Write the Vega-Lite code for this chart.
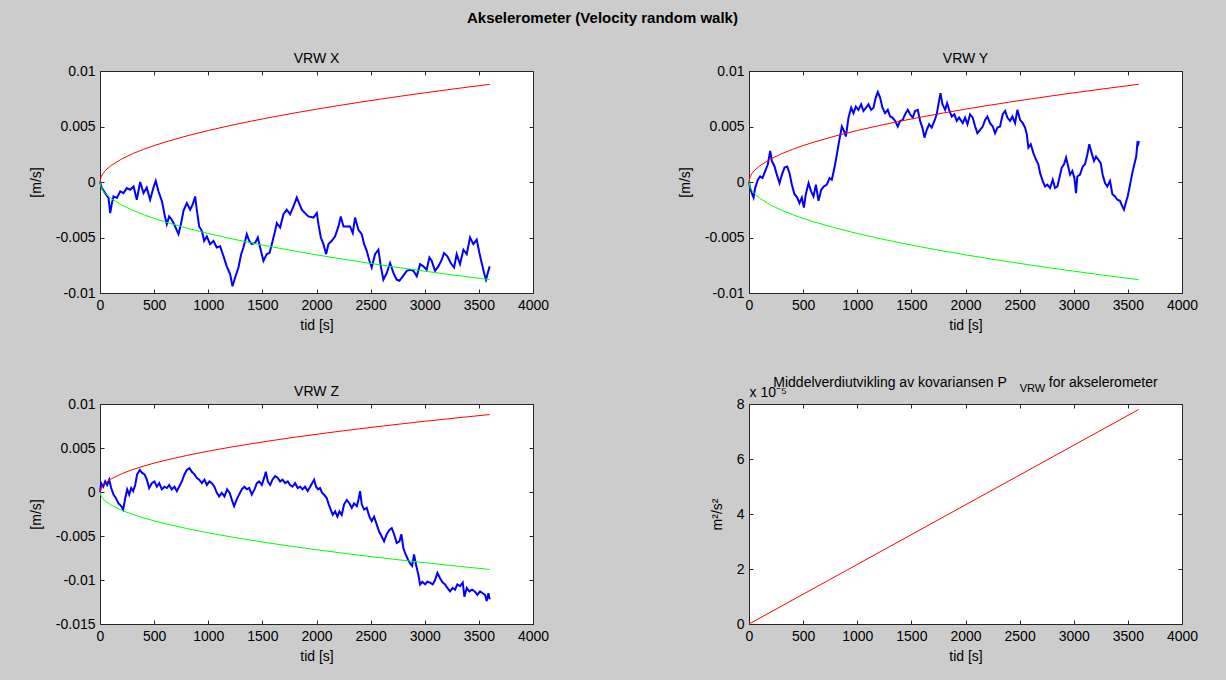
{
  "$schema": "https://vega.github.io/schema/vega-lite/v6.json",
  "background": "#cccccc",
  "padding": {"left": 28, "top": 10, "right": 34, "bottom": 16},
  "title": {"text": "Akselerometer (Velocity random walk)", "fontWeight": "bold", "fontSize": 15, "anchor": "middle", "offset": 26, "dx": -11},
  "columns": 2,
  "bounds": "flush",
  "spacing": {"row": 111, "column": 216},
  "datasets": {
    "bounds": [
      {"t":0,"upper":0,"lower":0},{"t":10,"upper":0.000464,"lower":-0.000464},{"t":25,"upper":0.000733,"lower":-0.000733},{"t":50,"upper":0.001037,"lower":-0.001037},{"t":100,"upper":0.001467,"lower":-0.001467},{"t":200,"upper":0.002074,"lower":-0.002074},{"t":300,"upper":0.00254,"lower":-0.00254},{"t":400,"upper":0.002933,"lower":-0.002933},{"t":500,"upper":0.00328,"lower":-0.00328},{"t":600,"upper":0.003593,"lower":-0.003593},{"t":800,"upper":0.004149,"lower":-0.004149},{"t":1000,"upper":0.004638,"lower":-0.004638},{"t":1200,"upper":0.005081,"lower":-0.005081},{"t":1400,"upper":0.005488,"lower":-0.005488},{"t":1600,"upper":0.005867,"lower":-0.005867},{"t":1800,"upper":0.006223,"lower":-0.006223},{"t":2000,"upper":0.00656,"lower":-0.00656},{"t":2200,"upper":0.00688,"lower":-0.00688},{"t":2400,"upper":0.007186,"lower":-0.007186},{"t":2600,"upper":0.007479,"lower":-0.007479},{"t":2800,"upper":0.007762,"lower":-0.007762},{"t":3000,"upper":0.008034,"lower":-0.008034},{"t":3200,"upper":0.008297,"lower":-0.008297},{"t":3400,"upper":0.008552,"lower":-0.008552},{"t":3600,"upper":0.0088,"lower":-0.0088}
    ],
    "walkX": [
      {"t":0,"v":0},{"t":17,"v":-0.00054},{"t":48,"v":-0.001},{"t":79,"v":-0.00144},{"t":94,"v":-0.0028},{"t":110,"v":-0.0019},{"t":125,"v":-0.0013},{"t":156,"v":-0.00144},{"t":187,"v":-0.00084},{"t":217,"v":-0.001},{"t":248,"v":-0.00054},{"t":279,"v":-0.0007},{"t":310,"v":-0.0004},{"t":340,"v":-0.0016},{"t":371,"v":0},{"t":402,"v":-0.001},{"t":432,"v":-0.0005},{"t":463,"v":-0.0016},{"t":494,"v":-0.0005},{"t":515,"v":0.0001},{"t":540,"v":-0.00084},{"t":571,"v":-0.0017},{"t":602,"v":-0.0032},{"t":617,"v":-0.0038},{"t":639,"v":-0.0031},{"t":663,"v":-0.0034},{"t":694,"v":-0.004},{"t":725,"v":-0.0047},{"t":750,"v":-0.0037},{"t":771,"v":-0.0026},{"t":802,"v":-0.0019},{"t":833,"v":-0.0025},{"t":857,"v":-0.002},{"t":879,"v":-0.0013},{"t":894,"v":-0.0025},{"t":916,"v":-0.004},{"t":941,"v":-0.0044},{"t":962,"v":-0.0053},{"t":987,"v":-0.0049},{"t":1017,"v":-0.0056},{"t":1048,"v":-0.0053},{"t":1079,"v":-0.0059},{"t":1110,"v":-0.0058},{"t":1141,"v":-0.0067},{"t":1171,"v":-0.0076},{"t":1202,"v":-0.0083},{"t":1224,"v":-0.0094},{"t":1248,"v":-0.0086},{"t":1279,"v":-0.0077},{"t":1304,"v":-0.0065},{"t":1325,"v":-0.0059},{"t":1356,"v":-0.0047},{"t":1378,"v":-0.0053},{"t":1402,"v":-0.0056},{"t":1433,"v":-0.0055},{"t":1458,"v":-0.005},{"t":1479,"v":-0.0059},{"t":1510,"v":-0.0071},{"t":1541,"v":-0.0065},{"t":1566,"v":-0.0064},{"t":1587,"v":-0.0056},{"t":1618,"v":-0.0044},{"t":1633,"v":-0.0037},{"t":1664,"v":-0.0041},{"t":1695,"v":-0.0029},{"t":1725,"v":-0.0025},{"t":1756,"v":-0.0029},{"t":1787,"v":-0.0022},{"t":1818,"v":-0.0014},{"t":1839,"v":-0.0019},{"t":1864,"v":-0.0025},{"t":1894,"v":-0.0028},{"t":1925,"v":-0.0031},{"t":1972,"v":-0.0032},{"t":2003,"v":-0.0028},{"t":2018,"v":-0.0038},{"t":2040,"v":-0.005},{"t":2064,"v":-0.0056},{"t":2089,"v":-0.0065},{"t":2110,"v":-0.0056},{"t":2141,"v":-0.0053},{"t":2172,"v":-0.0049},{"t":2203,"v":-0.004},{"t":2224,"v":-0.0031},{"t":2249,"v":-0.004},{"t":2280,"v":-0.004},{"t":2310,"v":-0.004},{"t":2335,"v":-0.0046},{"t":2356,"v":-0.0032},{"t":2387,"v":-0.0043},{"t":2418,"v":-0.0047},{"t":2440,"v":-0.0056},{"t":2464,"v":-0.0062},{"t":2489,"v":-0.0071},{"t":2510,"v":-0.0077},{"t":2541,"v":-0.0065},{"t":2572,"v":-0.0061},{"t":2594,"v":-0.0076},{"t":2618,"v":-0.0088},{"t":2649,"v":-0.0082},{"t":2680,"v":-0.0073},{"t":2711,"v":-0.0082},{"t":2741,"v":-0.0088},{"t":2766,"v":-0.0089},{"t":2797,"v":-0.0085},{"t":2834,"v":-0.008},{"t":2864,"v":-0.0079},{"t":2895,"v":-0.008},{"t":2926,"v":-0.0085},{"t":2957,"v":-0.0074},{"t":2987,"v":-0.0076},{"t":3018,"v":-0.0079},{"t":3043,"v":-0.0068},{"t":3064,"v":-0.0071},{"t":3095,"v":-0.008},{"t":3126,"v":-0.0076},{"t":3157,"v":-0.007},{"t":3178,"v":-0.0064},{"t":3209,"v":-0.0067},{"t":3240,"v":-0.0073},{"t":3271,"v":-0.0077},{"t":3295,"v":-0.0065},{"t":3326,"v":-0.0074},{"t":3357,"v":-0.0061},{"t":3388,"v":-0.0065},{"t":3418,"v":-0.005},{"t":3449,"v":-0.0056},{"t":3480,"v":-0.0052},{"t":3505,"v":-0.0064},{"t":3526,"v":-0.0073},{"t":3548,"v":-0.0082},{"t":3566,"v":-0.0088},{"t":3588,"v":-0.008},{"t":3600,"v":-0.0076}
    ],
    "walkY": [
      {"t":0,"v":0},{"t":11,"v":-0.00054},{"t":26,"v":-0.001},{"t":42,"v":-0.0014},{"t":57,"v":-0.00054},{"t":82,"v":0.0002},{"t":103,"v":0.0005},{"t":125,"v":0.00036},{"t":150,"v":0.001},{"t":174,"v":0.0016},{"t":196,"v":0.0028},{"t":211,"v":0.0019},{"t":236,"v":0.0014},{"t":257,"v":0.00066},{"t":282,"v":-0.0001},{"t":304,"v":0.00066},{"t":328,"v":0.0013},{"t":353,"v":0.0014},{"t":374,"v":0.0008},{"t":396,"v":-0.00024},{"t":420,"v":-0.0011},{"t":445,"v":-0.0014},{"t":466,"v":-0.0019},{"t":488,"v":-0.0014},{"t":507,"v":-0.0023},{"t":525,"v":-0.0011},{"t":550,"v":-0.0001},{"t":574,"v":-0.00084},{"t":596,"v":-0.0013},{"t":618,"v":-0.00024},{"t":642,"v":-0.0017},{"t":667,"v":-0.0007},{"t":691,"v":-0.0004},{"t":719,"v":-0.00024},{"t":744,"v":0.00036},{"t":765,"v":0.0002},{"t":790,"v":0.0013},{"t":812,"v":0.0025},{"t":833,"v":0.0037},{"t":858,"v":0.005},{"t":877,"v":0.0046},{"t":895,"v":0.0041},{"t":919,"v":0.0058},{"t":944,"v":0.0067},{"t":965,"v":0.0062},{"t":987,"v":0.0068},{"t":1011,"v":0.0065},{"t":1036,"v":0.007},{"t":1057,"v":0.0064},{"t":1082,"v":0.0067},{"t":1104,"v":0.007},{"t":1128,"v":0.0065},{"t":1150,"v":0.0067},{"t":1171,"v":0.0076},{"t":1190,"v":0.0081},{"t":1211,"v":0.0076},{"t":1233,"v":0.0067},{"t":1257,"v":0.0062},{"t":1282,"v":0.0065},{"t":1304,"v":0.0059},{"t":1325,"v":0.0058},{"t":1350,"v":0.0055},{"t":1374,"v":0.005},{"t":1396,"v":0.0055},{"t":1420,"v":0.0056},{"t":1442,"v":0.0061},{"t":1467,"v":0.0065},{"t":1488,"v":0.0061},{"t":1513,"v":0.0058},{"t":1534,"v":0.0064},{"t":1559,"v":0.0065},{"t":1581,"v":0.0055},{"t":1602,"v":0.0049},{"t":1621,"v":0.004},{"t":1642,"v":0.0047},{"t":1664,"v":0.0052},{"t":1688,"v":0.0049},{"t":1713,"v":0.0055},{"t":1734,"v":0.0061},{"t":1750,"v":0.007},{"t":1769,"v":0.008},{"t":1787,"v":0.007},{"t":1812,"v":0.0065},{"t":1830,"v":0.0071},{"t":1852,"v":0.0064},{"t":1873,"v":0.0059},{"t":1897,"v":0.0061},{"t":1919,"v":0.0055},{"t":1941,"v":0.0058},{"t":1975,"v":0.0053},{"t":1996,"v":0.0058},{"t":2018,"v":0.0052},{"t":2042,"v":0.0061},{"t":2067,"v":0.0058},{"t":2089,"v":0.005},{"t":2110,"v":0.0044},{"t":2135,"v":0.0047},{"t":2159,"v":0.005},{"t":2181,"v":0.0056},{"t":2202,"v":0.0059},{"t":2227,"v":0.0053},{"t":2252,"v":0.005},{"t":2273,"v":0.0044},{"t":2295,"v":0.0049},{"t":2319,"v":0.005},{"t":2344,"v":0.0061},{"t":2366,"v":0.0064},{"t":2387,"v":0.0058},{"t":2412,"v":0.0055},{"t":2433,"v":0.0059},{"t":2458,"v":0.0053},{"t":2479,"v":0.0065},{"t":2504,"v":0.0056},{"t":2529,"v":0.0053},{"t":2550,"v":0.0049},{"t":2566,"v":0.0043},{"t":2581,"v":0.0031},{"t":2603,"v":0.0034},{"t":2627,"v":0.0026},{"t":2652,"v":0.002},{"t":2673,"v":0.0016},{"t":2689,"v":0.0008},{"t":2713,"v":0.0001},{"t":2735,"v":-0.0004},{"t":2756,"v":-0.00024},{"t":2781,"v":-0.00054},{"t":2806,"v":0.0002},{"t":2827,"v":-0.00054},{"t":2849,"v":-0.0004},{"t":2867,"v":0.00036},{"t":2889,"v":0.0013},{"t":2910,"v":0.0016},{"t":2929,"v":0.0022},{"t":2944,"v":0.0016},{"t":2966,"v":0.00066},{"t":2987,"v":0.001},{"t":3006,"v":0.00036},{"t":3021,"v":-0.001},{"t":3033,"v":0.0005},{"t":3058,"v":0.00066},{"t":3083,"v":0.0014},{"t":3104,"v":0.0016},{"t":3126,"v":0.0025},{"t":3144,"v":0.0034},{"t":3166,"v":0.0026},{"t":3187,"v":0.0019},{"t":3206,"v":0.0023},{"t":3227,"v":0.002},{"t":3249,"v":0.0017},{"t":3267,"v":0.00066},{"t":3289,"v":-0.0001},{"t":3310,"v":-0.0004},{"t":3335,"v":0.0001},{"t":3357,"v":-0.0011},{"t":3381,"v":-0.0013},{"t":3403,"v":-0.0016},{"t":3427,"v":-0.0017},{"t":3449,"v":-0.0022},{"t":3464,"v":-0.0025},{"t":3480,"v":-0.0019},{"t":3498,"v":-0.0013},{"t":3520,"v":-0.00024},{"t":3541,"v":0.0008},{"t":3560,"v":0.0016},{"t":3577,"v":0.0023},{"t":3588,"v":0.0035},{"t":3595,"v":0.0034},{"t":3602,"v":0.0037}
    ],
    "walkZ": [
      {"t":0,"v":0},{"t":11,"v":0.001},{"t":30,"v":0.0006},{"t":48,"v":0.0012},{"t":66,"v":0.0008},{"t":85,"v":0.0014},{"t":103,"v":0.00045},{"t":125,"v":-0.0003},{"t":147,"v":-0.0007},{"t":171,"v":-0.0013},{"t":196,"v":-0.0016},{"t":214,"v":-0.002},{"t":233,"v":-0.0007},{"t":251,"v":0.0003},{"t":270,"v":-0.0003},{"t":288,"v":0.00045},{"t":307,"v":0.0001},{"t":325,"v":0.0008},{"t":343,"v":0.002},{"t":368,"v":0.0025},{"t":387,"v":0.0022},{"t":411,"v":0.002},{"t":433,"v":0.0014},{"t":454,"v":0.00045},{"t":479,"v":0.001},{"t":503,"v":0.0012},{"t":525,"v":0.0006},{"t":547,"v":0.001},{"t":571,"v":0.0003},{"t":596,"v":0.0006},{"t":618,"v":0.00045},{"t":639,"v":0.0008},{"t":663,"v":0.0003},{"t":688,"v":0.0006},{"t":710,"v":0.0001},{"t":731,"v":0.0006},{"t":756,"v":0.0012},{"t":780,"v":0.002},{"t":802,"v":0.0025},{"t":827,"v":0.0027},{"t":848,"v":0.0023},{"t":873,"v":0.002},{"t":894,"v":0.0016},{"t":916,"v":0.0014},{"t":941,"v":0.001},{"t":965,"v":0.0014},{"t":987,"v":0.0008},{"t":1011,"v":0.0012},{"t":1033,"v":0.001},{"t":1057,"v":0.0006},{"t":1079,"v":-0.0001},{"t":1101,"v":-0.0005},{"t":1125,"v":-0.0001},{"t":1150,"v":-0.0005},{"t":1174,"v":0.0003},{"t":1199,"v":-0.0001},{"t":1218,"v":-0.0009},{"t":1239,"v":-0.0016},{"t":1261,"v":-0.0009},{"t":1285,"v":-0.0003},{"t":1310,"v":0.0003},{"t":1334,"v":0.0006},{"t":1356,"v":0.0003},{"t":1378,"v":0.00045},{"t":1402,"v":-0.0003},{"t":1427,"v":0.0003},{"t":1449,"v":0.001},{"t":1470,"v":0.0012},{"t":1495,"v":0.0008},{"t":1516,"v":0.0016},{"t":1532,"v":0.0023},{"t":1550,"v":0.0012},{"t":1572,"v":0.0008},{"t":1593,"v":0.0014},{"t":1618,"v":0.0018},{"t":1643,"v":0.0016},{"t":1664,"v":0.0012},{"t":1686,"v":0.0014},{"t":1710,"v":0.001},{"t":1735,"v":0.0012},{"t":1756,"v":0.0008},{"t":1778,"v":0.0006},{"t":1802,"v":0.001},{"t":1827,"v":0.00045},{"t":1849,"v":0.0006},{"t":1870,"v":0.0003},{"t":1894,"v":0.0006},{"t":1919,"v":0.0001},{"t":1959,"v":0.001},{"t":1978,"v":0.0014},{"t":1996,"v":0.0006},{"t":2015,"v":0.0003},{"t":2033,"v":0.00045},{"t":2052,"v":-0.0001},{"t":2070,"v":-0.0003},{"t":2095,"v":-0.0007},{"t":2113,"v":-0.0014},{"t":2132,"v":-0.002},{"t":2150,"v":-0.0026},{"t":2172,"v":-0.0022},{"t":2193,"v":-0.0028},{"t":2212,"v":-0.0022},{"t":2233,"v":-0.0026},{"t":2255,"v":-0.0014},{"t":2280,"v":-0.0009},{"t":2304,"v":-0.0013},{"t":2326,"v":-0.0018},{"t":2347,"v":-0.0013},{"t":2372,"v":-0.0016},{"t":2387,"v":-0.0009},{"t":2403,"v":0.0001},{"t":2418,"v":-0.0014},{"t":2440,"v":-0.002},{"t":2464,"v":-0.0018},{"t":2489,"v":-0.0028},{"t":2510,"v":-0.0033},{"t":2532,"v":-0.0028},{"t":2557,"v":-0.0037},{"t":2578,"v":-0.0045},{"t":2600,"v":-0.005},{"t":2624,"v":-0.0056},{"t":2649,"v":-0.0048},{"t":2674,"v":-0.0043},{"t":2695,"v":-0.0041},{"t":2717,"v":-0.0048},{"t":2741,"v":-0.0058},{"t":2766,"v":-0.0056},{"t":2784,"v":-0.0048},{"t":2803,"v":-0.0064},{"t":2824,"v":-0.0071},{"t":2846,"v":-0.0077},{"t":2864,"v":-0.0081},{"t":2883,"v":-0.0084},{"t":2901,"v":-0.0071},{"t":2920,"v":-0.0083},{"t":2941,"v":-0.0094},{"t":2957,"v":-0.0105},{"t":2978,"v":-0.0102},{"t":3003,"v":-0.0105},{"t":3024,"v":-0.0102},{"t":3049,"v":-0.0103},{"t":3074,"v":-0.0105},{"t":3095,"v":-0.01},{"t":3117,"v":-0.0092},{"t":3141,"v":-0.0098},{"t":3166,"v":-0.0103},{"t":3188,"v":-0.0105},{"t":3209,"v":-0.0109},{"t":3234,"v":-0.0113},{"t":3258,"v":-0.0109},{"t":3280,"v":-0.0111},{"t":3301,"v":-0.0105},{"t":3326,"v":-0.0107},{"t":3351,"v":-0.0103},{"t":3366,"v":-0.0119},{"t":3388,"v":-0.0109},{"t":3412,"v":-0.0113},{"t":3437,"v":-0.0111},{"t":3462,"v":-0.0113},{"t":3486,"v":-0.0117},{"t":3511,"v":-0.0113},{"t":3535,"v":-0.0115},{"t":3557,"v":-0.0117},{"t":3572,"v":-0.0124},{"t":3588,"v":-0.0115},{"t":3600,"v":-0.0122}
    ],
    "cov": [
      {"t":0,"p":0},{"t":900,"p":0.0000195},{"t":1800,"p":0.000039},{"t":2700,"p":0.0000585},{"t":3600,"p":0.000078}
    ]
  },
  "concat": [
    {
      "width": 433, "height": 222,
      "title": "VRW X",
      "layer": [
        {"data": {"name": "walkX"}, "mark": {"type": "line", "color": "#0000ff", "strokeWidth": 2},
         "encoding": {
           "x": {"field": "t", "type": "quantitative", "scale": {"domain": [0, 4000], "nice": false}, "axis": {"title": "tid [s]", "values": [0,500,1000,1500,2000,2500,3000,3500,4000], "format": "d"}},
           "y": {"field": "v", "type": "quantitative", "scale": {"domain": [-0.01, 0.01], "nice": false}, "axis": {"title": "[m/s]", "values": [-0.01,-0.005,0,0.005,0.01], "labelExpr": "replace(format(datum.value, '~g'), '\u2212', '-')"}}
         }},
        {"data": {"name": "bounds"}, "mark": {"type": "line", "color": "#ff0000", "strokeWidth": 1},
         "encoding": {
           "x": {"field": "t", "type": "quantitative", "axis": {"orient": "top", "labels": false, "domain": false, "title": null, "values": [0,500,1000,1500,2000,2500,3000,3500,4000]}},
           "y": {"field": "upper", "type": "quantitative", "axis": {"orient": "right", "labels": false, "domain": false, "title": null, "values": [-0.01,-0.005,0,0.005,0.01]}}
         }},
        {"data": {"name": "bounds"}, "mark": {"type": "line", "color": "#00ff00", "strokeWidth": 1},
         "encoding": {
           "x": {"field": "t", "type": "quantitative", "axis": null},
           "y": {"field": "lower", "type": "quantitative", "axis": null}
         }}
      ],
      "resolve": {"axis": {"x": "independent", "y": "independent"}}
    },
    {
      "width": 433, "height": 222,
      "title": "VRW Y",
      "layer": [
        {"data": {"name": "walkY"}, "mark": {"type": "line", "color": "#0000ff", "strokeWidth": 2},
         "encoding": {
           "x": {"field": "t", "type": "quantitative", "scale": {"domain": [0, 4000], "nice": false}, "axis": {"title": "tid [s]", "values": [0,500,1000,1500,2000,2500,3000,3500,4000], "format": "d"}},
           "y": {"field": "v", "type": "quantitative", "scale": {"domain": [-0.01, 0.01], "nice": false}, "axis": {"title": "[m/s]", "values": [-0.01,-0.005,0,0.005,0.01], "labelExpr": "replace(format(datum.value, '~g'), '\u2212', '-')"}}
         }},
        {"data": {"name": "bounds"}, "mark": {"type": "line", "color": "#ff0000", "strokeWidth": 1},
         "encoding": {
           "x": {"field": "t", "type": "quantitative", "axis": {"orient": "top", "labels": false, "domain": false, "title": null, "values": [0,500,1000,1500,2000,2500,3000,3500,4000]}},
           "y": {"field": "upper", "type": "quantitative", "axis": {"orient": "right", "labels": false, "domain": false, "title": null, "values": [-0.01,-0.005,0,0.005,0.01]}}
         }},
        {"data": {"name": "bounds"}, "mark": {"type": "line", "color": "#00ff00", "strokeWidth": 1},
         "encoding": {
           "x": {"field": "t", "type": "quantitative", "axis": null},
           "y": {"field": "lower", "type": "quantitative", "axis": null}
         }}
      ],
      "resolve": {"axis": {"x": "independent", "y": "independent"}}
    },
    {
      "width": 433, "height": 220,
      "title": "VRW Z",
      "layer": [
        {"data": {"name": "walkZ"}, "mark": {"type": "line", "color": "#0000ff", "strokeWidth": 2},
         "encoding": {
           "x": {"field": "t", "type": "quantitative", "scale": {"domain": [0, 4000], "nice": false}, "axis": {"title": "tid [s]", "values": [0,500,1000,1500,2000,2500,3000,3500,4000], "format": "d"}},
           "y": {"field": "v", "type": "quantitative", "scale": {"domain": [-0.015, 0.01], "nice": false}, "axis": {"title": "[m/s]", "values": [-0.015,-0.01,-0.005,0,0.005,0.01], "labelExpr": "replace(format(datum.value, '~g'), '\u2212', '-')"}}
         }},
        {"data": {"name": "bounds"}, "mark": {"type": "line", "color": "#ff0000", "strokeWidth": 1},
         "encoding": {
           "x": {"field": "t", "type": "quantitative", "axis": {"orient": "top", "labels": false, "domain": false, "title": null, "values": [0,500,1000,1500,2000,2500,3000,3500,4000]}},
           "y": {"field": "upper", "type": "quantitative", "axis": {"orient": "right", "labels": false, "domain": false, "title": null, "values": [-0.015,-0.01,-0.005,0,0.005,0.01]}}
         }},
        {"data": {"name": "bounds"}, "mark": {"type": "line", "color": "#00ff00", "strokeWidth": 1},
         "encoding": {
           "x": {"field": "t", "type": "quantitative", "axis": null},
           "y": {"field": "lower", "type": "quantitative", "axis": null}
         }}
      ],
      "resolve": {"axis": {"x": "independent", "y": "independent"}}
    },
    {
      "width": 433, "height": 220,
      "title": {"text": "Middelverdiutvikling av kovariansen P\u2003\u2003\u2003for akselerometer", "fontSize": 14, "offset": -8},
      "data": {"name": "cov"},
      "layer": [
        {"mark": {"type": "line", "color": "#ff0000", "strokeWidth": 1},
         "encoding": {
           "x": {"field": "t", "type": "quantitative", "scale": {"domain": [0, 4000], "nice": false}, "axis": {"title": "tid [s]", "values": [0,500,1000,1500,2000,2500,3000,3500,4000], "format": "d"}},
           "y": {"field": "p", "type": "quantitative", "scale": {"domain": [0, 0.00008], "nice": false}, "axis": {"title": "m\u00b2/s\u00b2", "values": [0,0.00002,0.00004,0.00006,0.00008], "labelExpr": "format(datum.value * 100000, 'd')"}}
         }},
        {"mark": {"type": "line", "color": "#ff0000", "strokeWidth": 1, "opacity": 0},
         "encoding": {
           "x": {"field": "t", "type": "quantitative", "axis": {"orient": "top", "labels": false, "domain": false, "title": "VRW", "titleFontSize": 11, "titleX": 283, "titleY": -13, "titleAlign": "center", "titleBaseline": "alphabetic", "values": [0,500,1000,1500,2000,2500,3000,3500,4000]}},
           "y": {"field": "p", "type": "quantitative", "axis": {"orient": "right", "labels": false, "domain": false, "title": "x 10\u207b\u2075", "titleAngle": 0, "titleX": -433, "titleY": -8, "titleAlign": "left", "titleBaseline": "alphabetic", "values": [0,0.00002,0.00004,0.00006,0.00008]}}
         }}
      ],
      "resolve": {"axis": {"x": "independent", "y": "independent"}}
    }
  ],
  "config": {
    "font": "Liberation Sans",
    "view": {"fill": "#ffffff", "stroke": "#262626", "strokeWidth": 1},
    "axis": {"grid": false, "domainColor": "#262626", "tickColor": "#262626", "tickSize": -4, "labelFont": "Liberation Sans", "labelFontSize": 14, "labelColor": "#000000", "labelPadding": 9, "labelFlush": false, "labelOverlap": false, "titleFont": "Liberation Sans", "titleFontSize": 14, "titleFontWeight": "normal", "titleColor": "#000000"},
    "axisX": {"titlePadding": 6},
    "axisY": {"titlePadding": 12},
    "title": {"font": "Liberation Sans", "fontSize": 14, "fontWeight": "normal", "color": "#000000", "offset": -2}
  }
}
